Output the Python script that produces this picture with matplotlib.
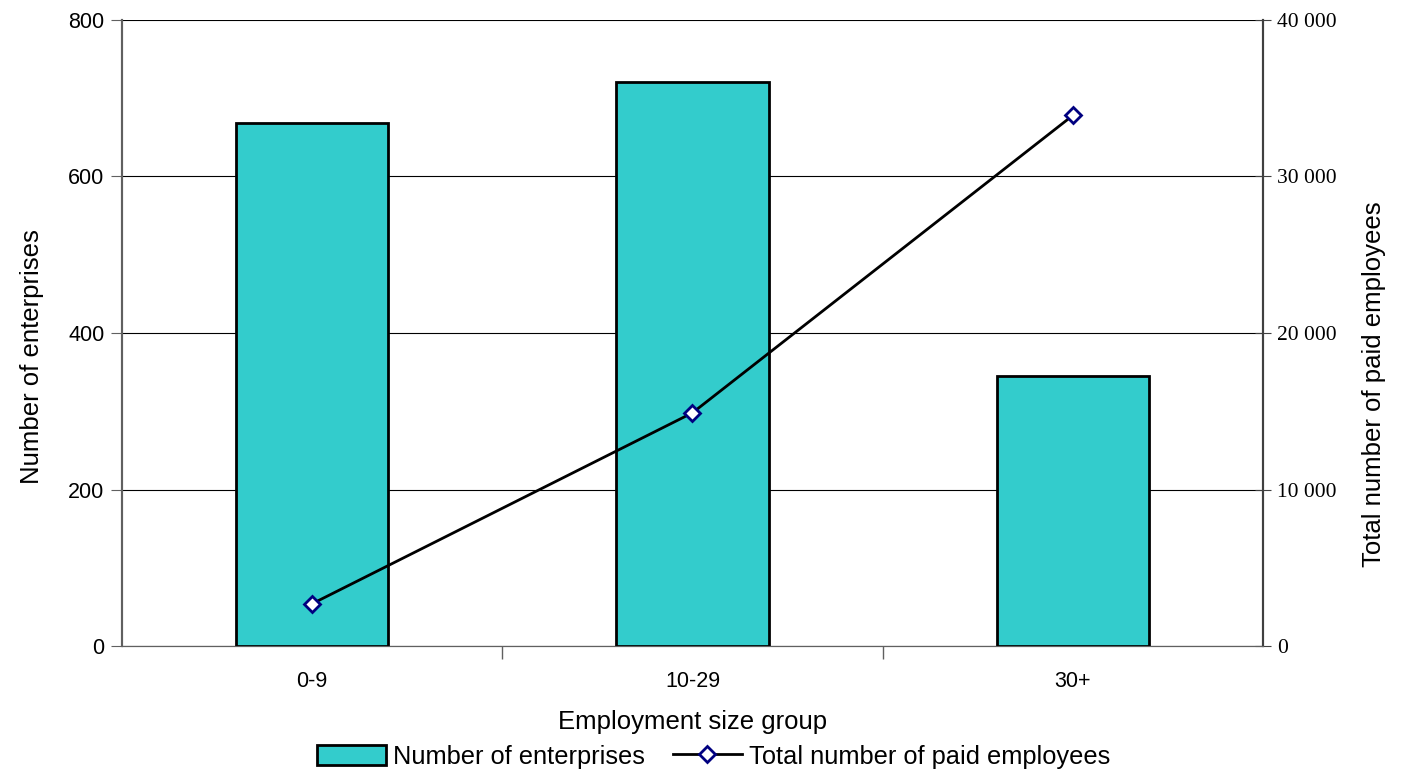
import matplotlib.pyplot as plt
from matplotlib.ticker import FuncFormatter

# data
groups = ["0-9", "10-29", "30+"]
enterprises = [668, 721, 345]
paid_employees = [2700, 14900, 33900]

left_ticks = [0, 200, 400, 600, 800]
right_ticks = [0, 10000, 20000, 30000, 40000]

fig = plt.figure(figsize=(14.05, 7.72), dpi=100)
ax = fig.add_axes([0.0868, 0.1632, 0.8121, 0.8109])
ax2 = ax.twinx()

x = list(range(len(groups)))
bars = ax.bar(x, enterprises, width=0.4, color="#33CCCC", edgecolor="black",
              linewidth=2, zorder=3, label="Number of enterprises")
ax.set_xlim(-0.5, len(groups) - 0.5)
ax.set_ylim(0, 800)
ax.set_yticks(left_ticks)
ax.yaxis.grid(True, color="black", linewidth=0.8, zorder=0)
ax.set_axisbelow(True)

# category labels in the middle, tick marks between the groups
ax.set_xticks(x)
ax.set_xticklabels(groups, fontname="Liberation Sans", fontsize=15.5)
ax.tick_params(axis="x", which="major", length=0, pad=18)
ax.set_xticks([0.5, 1.5], minor=True)
ax.tick_params(axis="x", which="minor", length=9, color="#606060", width=1)
ax.tick_params(axis="y", length=8, color="#606060", labelsize=15.5, pad=4.5)
for lbl in ax.get_yticklabels():
    lbl.set_fontname("Liberation Sans")

ax.set_xlabel("Employment size group", fontname="Liberation Sans", fontsize=18.5, labelpad=13)
ax.set_ylabel("Number of enterprises", fontname="Liberation Sans", fontsize=18.5)
ax.yaxis.set_label_coords(-0.068, 0.463)

line, = ax2.plot(x, paid_employees, color="black", linewidth=2, marker="D",
                 markersize=8, markerfacecolor="white", markeredgecolor="#000080",
                 markeredgewidth=2, zorder=4, label="Total number of paid employees")
ax2.set_ylim(0, 40000)
ax2.set_yticks(right_ticks)
ax2.yaxis.set_major_formatter(FuncFormatter(lambda v, p: f"{int(v):,}".replace(",", " ")))
ax2.tick_params(axis="y", direction="inout", length=12, color="#404040", labelsize=15.5, pad=4)
for lbl in ax2.get_yticklabels():
    lbl.set_fontname("Liberation Serif")
ax2.set_ylabel("Total number of paid employees", fontname="Liberation Sans", fontsize=18.5)
ax2.yaxis.set_label_coords(1.0868, 0.4185)

for a in (ax, ax2):
    a.spines["top"].set_visible(False)
    a.spines["left"].set_color("#606060")
    a.spines["left"].set_linewidth(1.5)
    a.spines["bottom"].set_color("#606060")
    a.spines["right"].set_color("#404040")
    a.spines["right"].set_linewidth(1.5)

fig.legend([bars, line], ["Number of enterprises", "Total number of paid employees"],
           loc="lower center", bbox_to_anchor=(0.508, -0.022), ncol=2, frameon=False,
           prop={"family": "Liberation Sans", "size": 18.3}, handlelength=2.7,
           handleheight=0.8, handletextpad=0.3, columnspacing=1.1, borderpad=0.3)

fig.savefig("out.png", dpi=100)
